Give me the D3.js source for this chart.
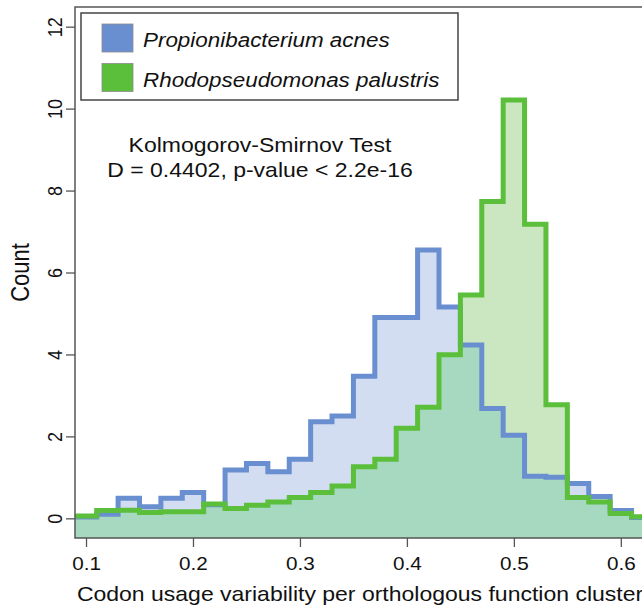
<!DOCTYPE html>
<html>
<head>
<meta charset="utf-8">
<script src="https://cdn.jsdelivr.net/npm/d3@7"></script>
<style>
  html, body { margin: 0; padding: 0; background: #fff; }
  svg { display: block; font-family: "Liberation Sans", Arial, Helvetica, sans-serif; }
</style>
</head>
<body>
<svg id="chart" width="642" height="608"></svg>
<script>
// histogram breaks (bin edges) and per-bin heights for each organism
const breaks = [0.09, 0.11, 0.13, 0.15, 0.17, 0.19, 0.21, 0.23, 0.25, 0.27, 0.29,
  0.31, 0.33, 0.35, 0.37, 0.39, 0.41, 0.43, 0.45, 0.47, 0.49, 0.51, 0.53, 0.55,
  0.57, 0.59, 0.61, 0.63];
const acnes = [0.03, 0.10, 0.49, 0.28, 0.49, 0.63, 0.33, 1.18, 1.34, 1.14, 1.44,
  2.36, 2.50, 3.47, 4.90, 4.90, 6.55, 5.16, 4.23, 2.68, 2.03, 1.03, 1.00, 0.85,
  0.53, 0.19, 0.02];
const palustris = [0.06, 0.19, 0.20, 0.14, 0.16, 0.16, 0.35, 0.24, 0.32, 0.40, 0.51,
  0.63, 0.79, 1.26, 1.44, 2.20, 2.71, 3.99, 5.45, 7.73, 10.21, 7.18, 2.77, 0.51,
  0.40, 0.12, 0.04];

const xTicks = [0.1, 0.2, 0.3, 0.4, 0.5, 0.6];
const yTicks = [0, 2, 4, 6, 8, 10, 12];
const seriesNames = ["Propionibacterium acnes", "Rhodopseudomonas palustris"];
const testLines = ["Kolmogorov-Smirnov Test", "D = 0.4402, p-value < 2.2e-16"];
const xTitle = "Codon usage variability per orthologous function cluster";
const yTitle = "Count";

const colors = {
  blueLine: "#6a8fd0", blueFill: "#d3ddf1",
  greenLine: "#5bbf3c", greenFill: "#cbe7c1",
  overlap: "#a7d9c0", frame: "#555", ink: "#111"
};

// plot region in pixels
const plot = { left: 75, right: 645, top: 7, bottom: 538 };
const sx = 1.15; // text is drawn slightly wide

const svg = d3.select("#chart");

const x = d3.scaleLinear().domain([0.0897, 0.6226]).range([plot.left, plot.right]);
const y = d3.scaleLinear().domain([-0.48, 12.48]).range([plot.bottom, plot.top]);

// turn a per-bin array into step points: each bin's left edge plus closing edge
function steps(counts) {
  const pts = counts.map((c, i) => ({ x: breaks[i], y: c }));
  pts.push({ x: breaks[counts.length], y: counts[counts.length - 1] });
  return pts;
}

function text(g, str, px, py, opts) {
  const t = g.append("text")
    .attr("transform", `translate(${px},${py}) scale(${sx},1)` + (opts.rotate ? " rotate(-90)" : ""))
    .attr("text-anchor", opts.anchor || "middle")
    .attr("font-size", opts.size)
    .attr("fill", colors.ink)
    .text(str);
  if (opts.italic) t.attr("font-style", "italic");
  return t;
}

function drawPlot() {
  svg.append("clipPath").attr("id", "clip")
    .append("rect")
    .attr("x", plot.left).attr("y", plot.top)
    .attr("width", plot.right - plot.left).attr("height", plot.bottom - plot.top);

  const g = svg.append("g").attr("clip-path", "url(#clip)");

  const area = d3.area()
    .curve(d3.curveStepAfter)
    .x(d => x(d.x))
    .y0(plot.bottom)
    .y1(d => y(d.y));

  const line = d3.line()
    .curve(d3.curveStepAfter)
    .x(d => x(d.x))
    .y(d => y(d.y));

  const shared = acnes.map((c, i) => Math.min(c, palustris[i]));

  g.append("path").attr("d", area(steps(acnes))).attr("fill", colors.blueFill);
  g.append("path").attr("d", area(steps(palustris))).attr("fill", colors.greenFill);
  g.append("path").attr("d", area(steps(shared))).attr("fill", colors.overlap);

  g.append("path").attr("d", line(steps(acnes)))
    .attr("fill", "none").attr("stroke", colors.blueLine)
    .attr("stroke-width", 5).attr("stroke-linejoin", "miter");
  g.append("path").attr("d", line(steps(palustris)))
    .attr("fill", "none").attr("stroke", colors.greenLine)
    .attr("stroke-width", 5).attr("stroke-linejoin", "miter");
}

function drawAxes() {
  const xAxis = svg.append("g")
    .attr("transform", `translate(0,${plot.bottom})`)
    .call(d3.axisBottom(x).tickValues(xTicks).tickSize(9).tickFormat(d3.format(".1f")));
  xAxis.select(".domain").remove();
  xAxis.selectAll(".tick line").attr("stroke", colors.frame).attr("stroke-width", 1.3);
  xAxis.selectAll(".tick text").remove();
  xAxis.selectAll(".tick").each(function(d) {
    text(d3.select(this), d3.format(".1f")(d), 0, 32, { size: 18 });
  });

  const yAxis = svg.append("g")
    .attr("transform", `translate(${plot.left},0)`)
    .call(d3.axisLeft(y).tickValues(yTicks).tickSize(9));
  yAxis.select(".domain").remove();
  yAxis.selectAll(".tick line").attr("stroke", colors.frame).attr("stroke-width", 1.3);
  yAxis.selectAll(".tick text").remove();
  yAxis.selectAll(".tick").each(function(d) {
    text(d3.select(this), String(d), -13, 0, { size: 18, rotate: true });
  });

  // frame around the plotting region
  svg.append("rect")
    .attr("x", plot.left).attr("y", plot.top)
    .attr("width", plot.right - plot.left).attr("height", plot.bottom - plot.top)
    .attr("fill", "none").attr("stroke", colors.frame).attr("stroke-width", 1.5);

  text(svg, xTitle, (plot.left + plot.right) / 2, 601, { size: 20 });
  text(svg, yTitle, 29, (plot.top + plot.bottom) / 2, { size: 22, rotate: true });
}

function drawLegend() {
  const lg = svg.append("g");
  lg.append("rect")
    .attr("x", 81).attr("y", 13).attr("width", 377).attr("height", 87)
    .attr("fill", "#fff").attr("stroke", "#444").attr("stroke-width", 1.5);

  const swatch = [colors.blueLine, colors.greenLine];
  seriesNames.forEach((name, i) => {
    lg.append("rect")
      .attr("x", 102).attr("y", 24 + i * 39.5).attr("width", 31).attr("height", 28)
      .attr("fill", swatch[i]).attr("stroke", "#8a8a8a").attr("stroke-width", 0.8);
    text(lg, name, 143, 46.5 + i * 40.5, { size: 19.5, anchor: "start", italic: true });
  });

  testLines.forEach((s, i) => {
    text(svg, s, 260, 151.5 + i * 25, { size: 20 });
  });
}

drawPlot();
drawAxes();
drawLegend();
</script>
</body>
</html>
